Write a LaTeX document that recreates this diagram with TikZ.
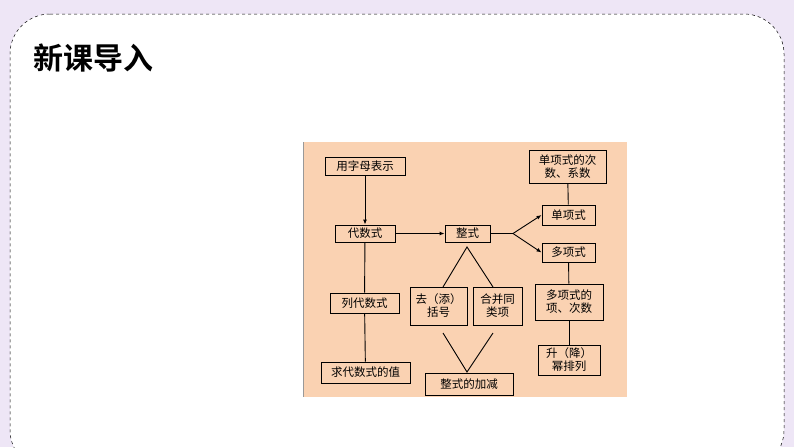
\documentclass[tikz,border=0pt]{standalone}
\usepackage{fontspec}
\newfontfamily\cjk{Noto Sans CJK SC}
\newfontfamily\cjkb{Noto Sans CJK SC Bold}
\usetikzlibrary{arrows.meta}
\definecolor{lav}{RGB}{238,230,246}
\definecolor{peach}{RGB}{250,210,178}
\begin{document}
\begin{tikzpicture}[x=1pt,y=-1pt,
 bx/.style={draw=black,line width=0.9pt,font=\cjk\fontsize{11.5}{13}\selectfont,inner sep=0pt,align=center},
 ln/.style={line width=0.9pt},
 ar/.style={ln,-{Latex[length=5pt,width=4pt]}}]
\useasboundingbox (0,0) rectangle (794,447);
\fill[lav] (0,0) rectangle (794,447);
\draw[fill=white,dashed,line width=0.5pt,rounded corners=40pt] (10,14) -- (784,14) -- (784,470) -- (10,470) -- cycle;
\node[anchor=west,font=\cjkb\fontsize{30}{32}\selectfont] (title) at (30,58) {新课导入};
\fill[peach] (303,142) rectangle (627,397);
\draw[black!40,line width=0.6pt] (303,142) -- (303,397);
\node[bx,minimum width=80,minimum height=18] (a) at (365,166) {用字母表示};
\node[bx,minimum width=60,minimum height=17] (b) at (365,233.5) {代数式};
\node[bx,minimum width=45,minimum height=17] (c) at (467.5,233.5) {整式};
\node[bx,minimum width=77,minimum height=33] (d) at (567.5,166.5) {单项式的次\\数、系数};
\node[bx,minimum width=53,minimum height=20] (e) at (568.5,215) {单项式};
\node[bx,minimum width=53,minimum height=19] (f) at (568.5,252.5) {多项式};
\node[bx,minimum width=68,minimum height=36] (g) at (569,302) {多项式的\\项、次数};
\node[bx,minimum width=62,minimum height=30] (h) at (569,360) {升（降）\\幂排列};
\node[bx,minimum width=69,minimum height=20] (i) at (364.5,303) {列代数式};
\node[bx,minimum width=89,minimum height=21] (j) at (365.5,372.5) {求代数式的值};
\node[bx,minimum width=57,minimum height=38] (k) at (438.5,306) {去（添）\\括号};
\node[bx,minimum width=49,minimum height=38] (l) at (497.5,306) {合并同\\类项};
\node[bx,minimum width=88,minimum height=22] (m) at (469,384) {整式的加减};
\coordinate (br) at (513,233.5);
\coordinate (t1) at (467,247);
\coordinate (t2) at (443,287);
\coordinate (t3) at (493,287);
\coordinate (u1) at (443,333);
\coordinate (u2) at (467,372);
\coordinate (u3) at (493,333);
\draw[ar] (a) -- (b);
\draw[ar] (b) -- (c);
\draw[ln] (b) -- (i);
\draw[ln] (i) -- (j);
\draw[ln] (c) -- (br);
\draw[ar] (br) -- (e.west);
\draw[ar] (br) -- (f.west);
\draw[ln] (d) -- (e);
\draw[ln] (f) -- (g);
\draw[ln] (g) -- (h);
\draw[ln] (t2) -- (t1) -- (t3);
\draw[ln] (u1) -- (u2) -- (u3);
\end{tikzpicture}
\end{document}
